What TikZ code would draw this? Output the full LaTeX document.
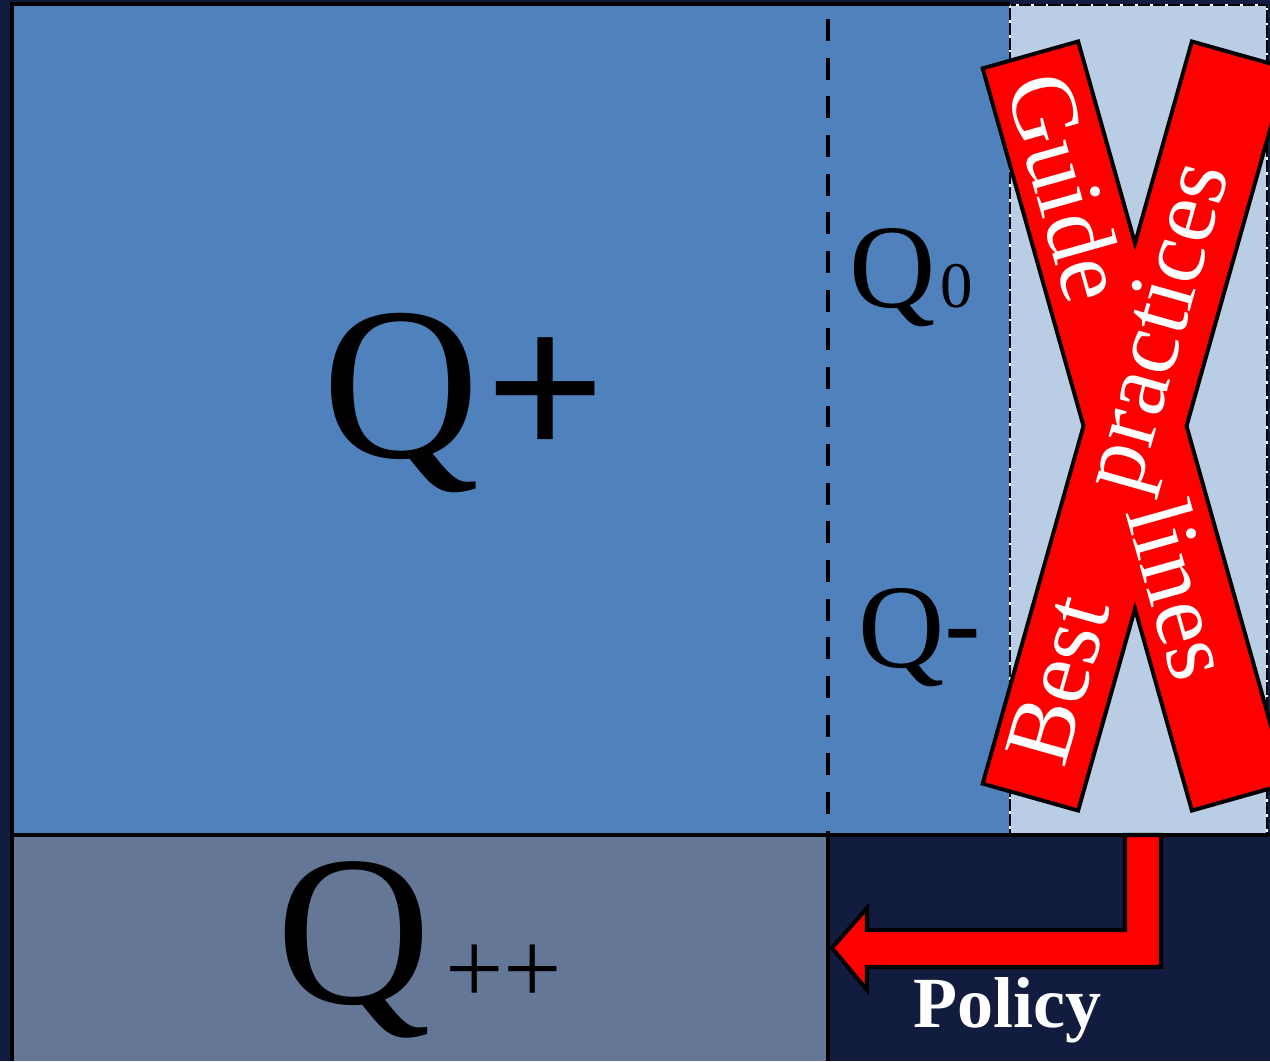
\documentclass[tikz,border=0pt]{standalone}
\usepackage{fontspec}
\setmainfont{Liberation Serif}
\newfontfamily\plusfont{Carlito}
\definecolor{navy}{RGB}{18,28,62}
\definecolor{qblue}{RGB}{79,129,189}
\definecolor{qlight}{RGB}{185,205,229}
\definecolor{qgrey}{RGB}{101,119,151}
\tikzset{
  qtext/.style = {inner sep = 0pt, anchor = base west, text = black},
  crosstext/.style = {inner sep = 0pt, text = white, font = \fontsize{54}{54}\selectfont}
}
\begin{document}
\begin{tikzpicture}[x = 0.02cm, y = -0.02cm]
\useasboundingbox (0,0) rectangle (1270,1061);
\fill[navy] (0,0) rectangle (1270,1061);
% fields
\fill[qblue] (12,4) rectangle (1010,835);
\fill[qgrey] (12,835) rectangle (828,1061);
\fill[qlight] (1010,5) rectangle (1267,835);
\draw[line width = 1.2pt] (1010,5) rectangle (1267,835);
\draw[white, line width = 1.2pt, dash pattern = on 1.5pt off 7pt] (1010,5) rectangle (1267,835);
\draw[line width = 2.8pt] (12,1061) -- (12,4) -- (1010,4);
\draw[line width = 2.3pt] (12,835) -- (1270,835);
\draw[line width = 2.3pt] (828,835) -- (828,1061);
\draw[line width = 2.8pt, dash pattern = on 12.5pt off 9.5pt] (828,19) -- (828,835);
% the cross
\foreach \ang in {74.26, -74.26}
{
  \draw[line width = 4.6pt, rotate around = {\ang:(1135,426)}] (751.5,378.5) rectangle (1518.5,473.5);
}
\foreach \ang in {74.26, -74.26}
{
  \fill[red, rotate around = {\ang:(1135,426)}] (751.5,378.5) rectangle (1518.5,473.5);
}
\draw[fill = red, line width = 2.3pt, miter limit = 4] (1161,835) -- (1161,967) -- (867,967) -- (867,990) -- (832,948) -- (867,908) -- (867,930) -- (1125,930) -- (1125,835) -- cycle;
% labels
\node[qtext, font = \fontsize{124}{124}\selectfont] (qplus) at (322,457) {Q\kern 7pt{\plusfont +}};
\node[qtext, font = \fontsize{68}{68}\selectfont] (qzero) at (849,307) {Q\kern 3pt{\fontsize{37}{37}\selectfont 0}};
\node[qtext, font = \fontsize{68}{68}\selectfont] (qminus) at (858,667) {Q{\plusfont -}};
\node[qtext, font = \fontsize{122}{122}\selectfont] (qpp) at (276,1003) {Q\kern 8pt{\fontsize{59}{59}\selectfont ++}};
\node[qtext, text = white, font = \fontsize{41}{41}\selectfont\bfseries] (policy) at (913,1027) {Policy};
\node[crosstext, rotate = -74.26] (guide) at (1068,187) {Guide};
\node[crosstext, rotate = -74.26] (lines) at (1181,590) {lines};
\node[crosstext, rotate = 74.26] (best) at (1058,680) {Best};
\node[crosstext, rotate = 74.26] (practices) at (1163,328) {practices};
\end{tikzpicture}
\end{document}
